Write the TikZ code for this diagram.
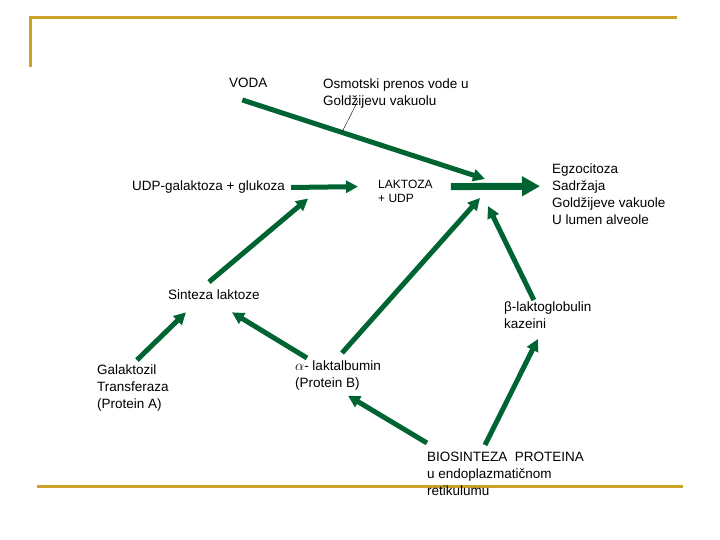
\documentclass[tikz,border=0pt]{standalone}
\usepackage{fontspec}
\setmainfont{Liberation Sans}
\usetikzlibrary{arrows.meta}
\definecolor{leaf}{RGB}{0,100,50}
\definecolor{gold}{RGB}{201,162,39}
\tikzset{
  txt/.style={anchor=north west, inner sep=0pt, align=left, font=\fontsize{13.5}{16.7}\selectfont},
  small/.style={txt, font=\fontsize{12}{14.3}\selectfont},
  flow/.style={draw=leaf, line width=5pt, -{Triangle[length=12pt,width=12pt]}},
  bigflow/.style={draw=leaf, line width=7pt, -{Triangle[length=18pt,width=19pt]}},
  lead/.style={draw, thin},
  rule/.style={draw=gold, line width=3pt}
}

\begin{document}
\begin{tikzpicture}[x=1pt, y=-1pt]
	\useasboundingbox (0,0) rectangle (720,540);
	% frame
	\draw [rule] (30,67) -- (30,18) -- (677,18);
	\draw [rule] (37,486) -- (683,486);

	% Place nodes
	\node [txt] (voda) at (229,78) {VODA};
	\node [txt] (osm) at (323,79) {Osmotski prenos vode u\\Goldžijevu vakuolu};
	\node [txt] (udp) at (132,181) {UDP-galaktoza + glukoza};
	\node [small] (laktoza) at (378,180) {LAKTOZA\\+ UDP};
	\node [txt] (egz) at (552,164) {Egzocitoza\\Sadržaja\\Goldžijeve vakuole\\U lumen alveole};
	\node [txt] (sint) at (168,290) {Sinteza laktoze};
	\node [txt] (beta) at (504,302) {β-laktoglobulin\\kazeini};
	\node [txt] (galakt) at (97,365) {Galaktozil\\Transferaza\\(Protein A)};
	\node [txt] (alfa) at (295,361) {$\alpha$- laktalbumin\\(Protein B)};
	\node [txt] (bio) at (427,452) {BIOSINTEZA\ \ PROTEINA\\u endoplazmatičnom\\retikulumu};
	\coordinate (vak) at (485,190);

	% arrows
	\draw [flow] ([xshift=-6pt,yshift=-12pt]voda.south) -- coordinate[pos=0.41] (onarrow) ([yshift=11pt]vak);
	\draw [lead] ([xshift=35pt,yshift=8pt]osm.south west) -- (onarrow);
	\draw [flow] ([xshift=6pt]udp.east) -- ([xshift=-20pt,yshift=5pt]laktoza.west);
	\draw [bigflow] ([xshift=18pt,yshift=5pt]laktoza.east) -- ([xshift=-12pt,yshift=8pt]egz.west);
	\draw [flow] ([xshift=-5pt,yshift=8pt]sint.north) -- ([xshift=23pt,yshift=-11pt]udp.east);
	\draw [flow] ([xshift=4pt,yshift=5pt]galakt.north) -- ([xshift=-28pt,yshift=-12pt]sint.south);
	\draw [flow] ([xshift=-31pt,yshift=3pt]alfa.north) -- ([xshift=18pt,yshift=-12pt]sint.south);
	\draw [flow] ([xshift=4pt,yshift=8pt]alfa.north) -- ([xshift=-5pt,yshift=-8pt]vak);
	\draw [flow] ([yshift=9pt]bio.north west) -- ([xshift=10pt,yshift=-5pt]alfa.south);
	\draw [flow] ([xshift=58pt,yshift=7pt]bio.north west) -- ([xshift=-10pt,yshift=-10pt]beta.south);
	\draw [flow] ([xshift=-14pt,yshift=2pt]beta.north) -- ([xshift=3pt,yshift=-16pt]vak);
\end{tikzpicture}
\end{document}
